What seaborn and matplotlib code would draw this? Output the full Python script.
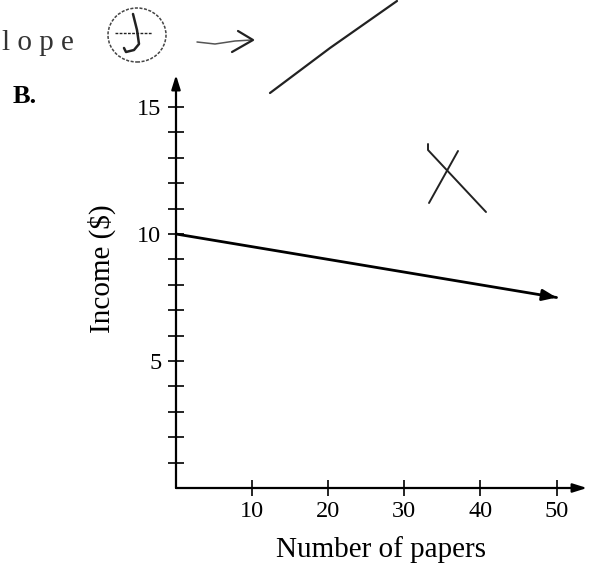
import matplotlib
matplotlib.use("Agg")
import matplotlib.pyplot as plt
from matplotlib.lines import Line2D
from matplotlib.patches import Ellipse
import seaborn as sns
import pandas as pd

# Income line: starts at $10 with 0 papers, falls to $7.50 at 50 papers
papers = [0, 50]
income = [10, 7.5]
x_ticks = [10, 20, 30, 40, 50]
y_ticks = list(range(1, 16))
y_labelled = [5, 10, 15]

W, H = 597, 571
sns.set_theme(style="white")
plt.rcParams["font.family"] = ["Liberation Serif", "DejaVu Serif"]

fig = plt.figure(figsize=(W / 100, H / 100), dpi=100)
fig.patch.set_facecolor("white")

# axes rectangle in pixels: origin at (176, 488), top of y arrow at 75, end of x arrow at 587
x0, y0, x1, y1 = 176, 488, 587, 75
ax = fig.add_axes([x0 / W, 1 - y0 / H, (x1 - x0) / W, (y0 - y1) / H])
xmax = (x1 - x0) / 7.61
ymax = (y0 - y1) / 25.4
ax.set_xlim(0, xmax)
ax.set_ylim(0, ymax)
ax.set_facecolor("white")
for s in ax.spines.values():
    s.set_visible(False)

df = pd.DataFrame({"papers": papers, "income": income})
sns.lineplot(data=df, x="papers", y="income", ax=ax, color="black", lw=2.0)
# arrowhead at the end of the income line
slope = (income[1] - income[0]) / (papers[1] - papers[0])
ax.annotate("", xy=(papers[1], income[1]),
            xytext=(papers[1] - 2, income[1] - 2 * slope),
            arrowprops=dict(arrowstyle="-|>,head_length=0.7,head_width=0.28",
                            color="black", lw=2.0, shrinkA=0, shrinkB=0))

# axis lines with arrows
ax.annotate("", xy=(xmax, 0), xytext=(0, 0), annotation_clip=False,
            arrowprops=dict(arrowstyle="-|>,head_length=0.7,head_width=0.22",
                            color="black", lw=1.6, shrinkA=0, shrinkB=0))
ax.annotate("", xy=(0, ymax), xytext=(0, 0), annotation_clip=False,
            arrowprops=dict(arrowstyle="-|>,head_length=0.7,head_width=0.22",
                            color="black", lw=1.6, shrinkA=0, shrinkB=0))

ax.set_xticks(x_ticks)
ax.set_xticklabels([str(t) for t in x_ticks])
ax.set_yticks(y_ticks)
ax.set_yticklabels([str(t) if t in y_labelled else "" for t in y_ticks])
ax.tick_params(axis="x", direction="inout", length=11, width=1.2, color="black",
               labelsize=17.5, pad=4, bottom=True, labelcolor="black")
ax.tick_params(axis="y", direction="inout", length=11, width=1.2, color="black",
               labelsize=17.5, pad=5, left=True, labelcolor="black")
ax.grid(False)

ax.set_xlabel("Number of papers", fontsize=21, color="black")
ax.set_ylabel("Income ($)", fontsize=21, color="black")
ax.xaxis.set_label_coords(0.5, -(536 - y0) / (y0 - y1), transform=ax.transAxes)
ax.yaxis.set_label_coords(-(x0 - 116) / (x1 - x0), (y0 - 269) / (y0 - y1))
ax.xaxis.label.set_va("top")

# part label
fig.text(13 / W, 1 - 103 / H, "B.", fontsize=19, fontweight="bold", color="black",
         ha="left", va="baseline")


def px(x, y):
    return x / W, 1 - y / H


def stroke(points, lw=1.3, color="#222222", ls="-"):
    xs = [px(*p)[0] for p in points]
    ys = [px(*p)[1] for p in points]
    fig.add_artist(Line2D(xs, ys, transform=fig.transFigure, color=color,
                          lw=lw, ls=ls, solid_capstyle="round"))


# pencil notes
fig.text(*px(2, 50), "l o p e", fontsize=21, color="#333333",
         ha="left", va="baseline", family=["Liberation Serif"])
fig.add_artist(Ellipse(px(137, 35), 58 / W, 54 / H, transform=fig.transFigure,
                       fill=False, ec="#444444", lw=1.1, ls=(0, (2, 1))))
stroke([(115, 33), (152, 33)], lw=1.0, ls=(0, (2, 1)))
stroke([(133, 14), (137, 30), (139, 44), (134, 50), (126, 52), (124, 48)], lw=1.8)
stroke([(197, 42), (215, 44), (235, 41), (252, 40)], lw=1.1, color="#555555")
stroke([(238, 31), (253, 40), (232, 52)], lw=1.6)
stroke([(270, 93), (330, 48), (397, 1)], lw=1.6)
stroke([(428, 144), (428, 150), (486, 212)], lw=1.4)
stroke([(458, 151), (429, 203)], lw=1.4)

fig.savefig("out.png", dpi=100, facecolor="white")
